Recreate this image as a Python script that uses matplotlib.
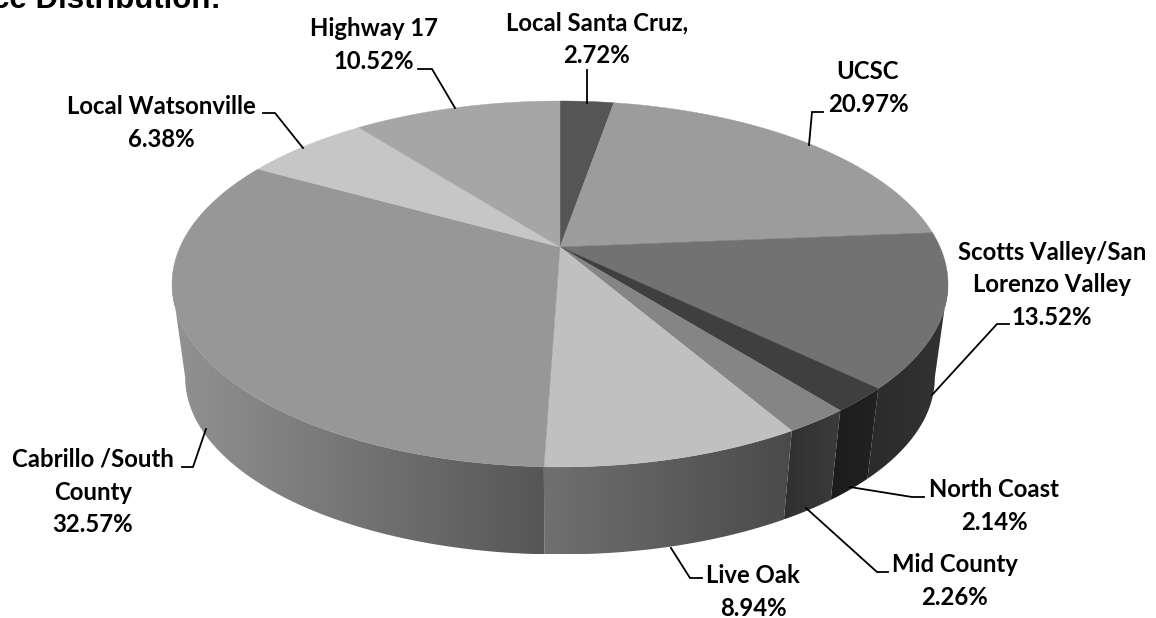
"""Grey 3D pie of the distribution, drawn with a projective tilt like the original."""

import matplotlib

matplotlib.use("Agg")
import matplotlib.pyplot as plt
import numpy as np
from matplotlib.colors import LinearSegmentedColormap
from matplotlib.patches import Polygon

names = [
    "Local Santa Cruz,", "UCSC", "Scotts Valley/San\nLorenzo Valley", "North Coast", "Mid County",
    "Live Oak", "Cabrillo /South\nCounty", "Local Watsonville", "Highway 17",
]
shares = [2.72, 20.97, 13.52, 2.14, 2.26, 8.94, 32.57, 6.38, 10.52]

top_colors = ["#555555", "#9c9c9c", "#727272", "#3f3f3f", "#858585", "#c0c0c0", "#979797", "#c6c6c6", "#a6a6a6"]
wall_left = ["#3a3a3a", "#6a6a6a", "#2b2b2b", "#1c1c1c", "#2f2f2f", "#707070", "#929292", "#808080", "#707070"]
wall_right = ["#3a3a3a", "#6a6a6a", "#333333", "#222222", "#3c3c3c", "#4a4a4a", "#565656", "#808080", "#707070"]

# label centres and leader polylines, in pixels
label_xy = [(597, 39), (868, 88), (1052, 285), (994, 506), (955, 581), (753, 592), (93, 492), (161, 123), (374, 45)]
leaders = [
    [(587, 70), (587, 103)],
    [(823, 112), (812, 112), (809, 145)],
    [(1009, 324), (997, 324), (932, 395)],
    [(924, 497), (912, 497), (850, 487)],
    [(888, 572), (877, 572), (806, 508)],
    [(702, 578), (690, 578), (671, 548)],
    [(182, 467), (193, 467), (206, 429)],
    [(263, 113), (275, 113), (303, 148)],
    [(418, 69), (432, 69), (455, 108)],
]

APEX = (560.0, 247.0)
RX, RY, TILT = 380.0, 175.5, 0.202
WALL_DROP, WALL_SCALE = 95.0, 0.966


def project(theta, bottom=False):
    # theta is clockwise from 12 o'clock on the flat disc
    u, v = np.sin(theta), np.cos(theta)
    den = 1 + TILT * v
    x, y = RX * u / den, -RY * v / den
    if bottom:
        return APEX[0] + WALL_SCALE * x, APEX[1] + WALL_DROP + WALL_SCALE * y
    return APEX[0] + x, APEX[1] + y


def main():
    fig = plt.figure(figsize=(11.56, 6.18), dpi=100)
    ax = fig.add_axes([0, 0, 1, 1])

    fr = np.array(shares) / sum(shares)
    edges = np.concatenate([[0], np.cumsum(fr)]) * 2 * np.pi

    # only the part of the rim between the two silhouette angles faces the viewer
    front_start = np.arccos(-TILT)
    front_end = 2 * np.pi - front_start

    # side wall; each slice is a left-to-right gradient clipped to its outline
    for i in range(len(shares)):
        t0, t1 = max(edges[i], front_start), min(edges[i + 1], front_end)
        if t1 <= t0:
            continue
        ts = np.linspace(t0, t1, 80)
        xt, yt = project(ts)
        xb, yb = project(ts, bottom=True)
        outline = np.c_[np.r_[xt, xb[::-1]], np.r_[yt, yb[::-1]]]
        cmap = LinearSegmentedColormap.from_list("wall", [wall_left[i], wall_right[i]])
        im = ax.imshow(
            np.linspace(0, 1, 256)[None, :], cmap=cmap, aspect="auto", interpolation="bilinear",
            extent=(outline[:, 0].min(), outline[:, 0].max(), outline[:, 1].max(), outline[:, 1].min()),
            zorder=1,
        )
        clip = Polygon(outline, closed=True, transform=ax.transData, fc="none", ec="none")
        ax.add_patch(clip)
        im.set_clip_path(clip)

    # top face
    for i in range(len(shares)):
        ts = np.linspace(edges[i], edges[i + 1], 80)
        x, y = project(ts)
        ax.fill(np.r_[APEX[0], x], np.r_[APEX[1], y], color=top_colors[i], lw=0.3, zorder=2)

    for i, name in enumerate(names):
        ax.text(*label_xy[i], f"{name}\n{shares[i]:.2f}%", ha="center", va="center", fontsize=17.2,
                fontweight="bold", family="Lato", color="black", linespacing=1.52, zorder=4)
        xs, ys = zip(*leaders[i])
        ax.plot(xs, ys, color="black", lw=1.3, solid_joinstyle="miter", zorder=3)

    # the slide title is cut off by the top and left edges of the picture
    ax.text(221, 8, "ce Distribution:", ha="right", va="baseline", fontsize=22.5, fontweight="bold",
            family="Liberation Sans", color="black", clip_on=True)

    ax.set_xlim(0, 1156)
    ax.set_ylim(618, 0)
    ax.axis("off")
    fig.savefig("out.png", dpi=100, facecolor="white")


if __name__ == "__main__":
    main()
